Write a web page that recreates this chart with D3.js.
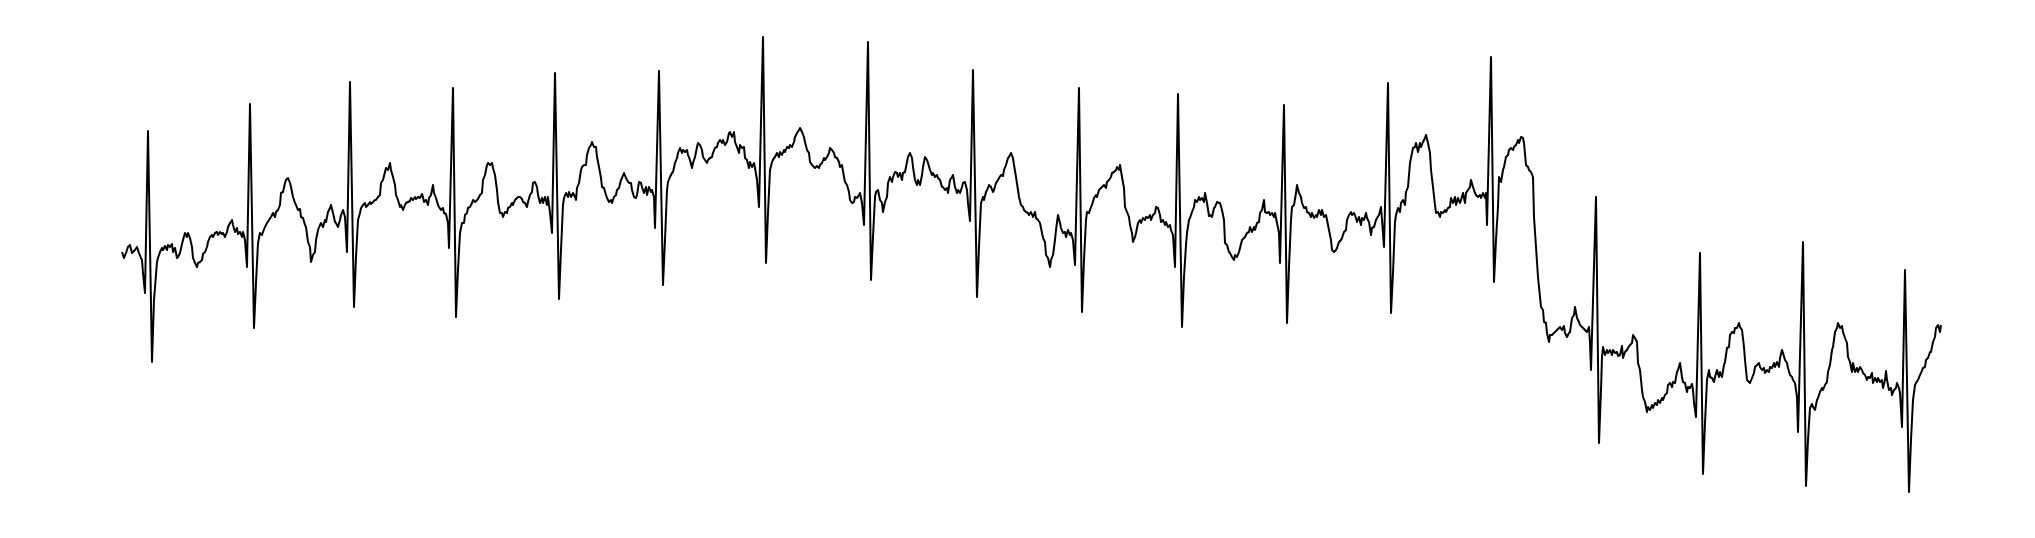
<!DOCTYPE html>
<html>
<head>
<meta charset="utf-8">
<script src="https://cdn.jsdelivr.net/npm/d3@7"></script>
<style>
  html, body { margin: 0; padding: 0; background: #ffffff; }
  svg { display: block; }
</style>
</head>
<body>
<svg id="chart" width="2035" height="538"></svg>
<script>
// Sample times (arbitrary sample units)
const time = [
2,4,6,8,10,12,13,15,17,19,21,22,23,25,28,32,34,37,38,40,42,43,45,47,48,50,52,53,55,57,58,60,62,63,65,67,68,70,72,73,75,77,78,80,82,83,85,87,88,90,92,93,95,97,98,100,102,103,105,107,108,110,112,113,115,117,118,120,122,123,125,127,130,134,136,138,140,142,143,145,147,
151,153,155,156,158,160,161,163,165,166,168,170,171,173,175,176,178,180,181,183,185,186,188,190,191,193,195,196,198,200,201,203,205,206,208,210,211,213,215,216,218,220,221,223,225,227,230,234,236,238,240,241,243,245,246,248,250,251,253,255,256,258,260,261,263,265,266,268,270,271,273,275,276,278,280,281,283,285,286,288,290,291,293,295,296,298,300,302,
303,304,306,308,309,311,313,314,316,318,319,321,323,324,326,328,329,333,336,338,340,342,344,345,347,348,350,352,353,355,357,358,360,362,363,365,367,368,370,372,373,375,377,378,380,382,383,385,387,388,390,392,393,395,397,398,400,402,403,405,407,408,410,412,413,415,417,418,420,422,423,425,427,428,430,432,435,439,441,443,444,446,448,449,451,453,455,
456,457,459,461,462,464,466,467,469,471,472,474,476,477,479,481,482,484,486,487,489,491,492,494,496,497,499,501,502,504,506,507,509,511,512,514,516,517,519,521,522,524,526,527,529,531,532,534,535,539,543,545,547,548,550,552,553,555,557,558,560,562,563,565,567,568,570,572,573,575,577,578,580,582,583,585,587,588,590,592,593,595,597,598,600,602,603,605,607,
609,610,612,614,615,617,619,620,622,624,625,627,629,630,632,634,635,637,639,643,646,648,650,652,654,655,657,659,660,662,664,665,667,669,670,672,674,675,677,679,680,682,684,685,687,689,690,692,694,695,697,699,700,702,704,705,707,709,710,712,714,715,717,719,720,722,724,725,727,729,730,732,734,735,737,739,740,742,744,748,751,753,755,756,758,760,
762,763,765,767,768,770,772,773,775,777,778,780,782,783,785,787,788,790,792,793,795,797,798,800,802,803,805,807,808,810,812,813,815,817,818,820,822,823,825,827,828,830,832,833,835,837,838,840,842,843,845,847,848,850,853,857,859,861,863,864,866,868,869,871,873,874,876,878,879,881,883,884,886,888,889,891,893,894,896,898,899,901,903,904,906,908,909,911,913,
915,916,918,920,921,923,925,926,928,930,931,933,935,936,938,940,941,943,945,946,948,950,951,953,955,959,962,964,966,967,969,971,972,974,976,977,979,981,982,984,986,987,989,991,992,994,996,997,999,1000,1002,1004,1005,1007,1009,1010,1012,1013,1015,1016,1018,1020,1021,1023,1025,1026,1028,1030,1031,1033,1035,1036,1038,1040,1041,1043,1045,1046,1048,1050,1051,1053,1055,1058,1062,1064,1066,
1067,1069,1070,1072,1074,1075,1077,1079,1080,1082,1084,1085,1087,1089,1090,1092,1094,1095,1097,1099,1100,1102,1104,1105,1107,1109,1110,1112,1114,1115,1117,1119,1120,1122,1124,1125,1127,1129,1130,1132,1134,1135,1137,1139,1140,1142,1144,1145,1147,1149,1150,1152,1154,1155,1157,1159,1160,1164,1167,1169,1171,1172,1174,1176,1177,1179,1181,1182,1184,1186,1187,1189,1191,1192,1194,1196,1197,1199,1201,1202,1204,1206,1207,1209,1211,1212,1214,1216,1217,1219,
1221,1222,1224,1226,1227,1229,1231,1232,1234,1236,1237,1239,1241,1242,1244,1246,1247,1249,1251,1252,1254,1256,1257,1259,1261,1262,1264,1268,1271,1273,1275,1276,1278,1280,1281,1283,1285,1286,1288,1290,1291,1293,1295,1296,1298,1300,1301,1303,1305,1306,1308,1310,1311,1313,1315,1316,1318,1320,1321,1323,1325,1326,1328,1330,1331,1333,1335,1336,1338,1340,1341,1343,1345,1346,1348,1350,1351,1353,1355,1356,1358,1360,1361,1363,1365,1366,1367,1371,
1374,1376,1378,1379,1381,1383,1384,1386,1388,1389,1391,1393,1394,1396,1398,1399,1401,1403,1404,1406,1408,1409,1411,1413,1414,1416,1418,1419,1421,1423,1424,1426,1427,1429,1430,1432,1434,1435,1437,1439,1440,1442,1444,1445,1447,1449,1450,1452,1454,1455,1457,1459,1460,1462,1464,1465,1467,1469,1470,1471,1476,1479,1481,1482,1483,1485,1487,1488,1490,1492,1493,1495,1497,1498,1500,1502,1503,1505,1507,1508,1510,1512,1513,1515,1517,1518,1520,1522,1523,1525,
1527,1528,1530,1532,1533,1535,1537,1538,1540,1542,1543,1545,1547,1548,1550,1552,1553,1555,1557,1558,1560,1562,1563,1565,1567,1568,1570,1572,1573,1574,1576,1580,1583,1585,1587,1589,1590,1592,1594,1595,1597,1599,1600,1602,1604,1605,1607,1609,1610,1612,1614,1615,1617,1619,1620,1622,1624,1625,1627,1629,1630,1632,1634,1635,1637,1639,1640,1642,1644,1645,1647,1649,1650,1652,1654,1655,1657,1659,1660,1662,1663,1665,1667,1668,1670,1672,1673,1675,1677,1678,
1683,1686,1688,1690,1692,1693,1695,1697,1698,1700,1702,1703,1705,1707,1708,1710,1712,1713,1715,1717,1718,1720,1722,1723,1725,1727,1728,1730,1732,1733,1735,1737,1738,1740,1742,1743,1745,1747,1748,1750,1752,1753,1755,1757,1758,1760,1762,1763,1765,1766,1767,1769,1771,1772,1774,1776,1777,1779,1780,1782,1785,1789,1791,1793,1795,1796,1798,1800,1801,1803,1805,1806,1808,1810,1811,1813,1815,1816,1818,1820,1821
];

// Signal amplitude (arbitrary units)
const amplitude = [
48,42,47,53,55,47,48,50,53,47,42,40,27,7,169,-62,0,38,42,48,52,50,54,50,55,53,56,48,52,42,43,47,56,60,67,63,67,62,53,42,37,33,37,38,40,46,48,53,58,63,65,63,67,68,65,68,66,67,63,68,73,77,80,75,68,72,66,68,63,68,60,33,196,-28,17,57,67,65,68,73,77,
83,87,83,88,90,95,107,108,117,120,122,117,113,103,97,95,90,91,83,82,75,73,58,53,38,45,48,60,70,75,77,73,80,78,88,92,95,87,78,77,73,80,85,90,83,48,218,-7,43,80,87,92,95,97,93,95,98,96,98,100,100,103,105,117,120,128,132,130,137,130,123,115,105,100,93,95,90,95,97,98,99,102,100,103,101,103,102,106,
103,98,100,95,102,105,115,107,102,95,93,90,92,87,86,77,52,212,-17,30,67,77,77,85,87,92,93,97,100,98,100,101,105,107,120,125,135,137,135,137,132,125,110,98,87,87,83,88,87,92,93,97,95,100,102,103,103,101,98,97,93,98,105,108,117,118,113,105,97,102,97,103,95,103,87,67,227,1,50,95,102,107,103,108,103,107,103,
100,112,117,130,133,135,135,145,152,155,158,153,153,143,133,122,113,112,105,102,98,100,97,103,105,110,112,120,122,127,122,120,117,117,110,103,102,105,118,117,113,107,113,105,113,108,110,103,72,229,15,60,110,118,123,127,128,137,142,147,152,147,150,148,150,145,140,132,137,143,153,157,155,150,143,140,137,140,142,143,147,152,153,157,160,157,160,155,158,
167,168,163,168,158,153,147,155,152,153,142,140,132,138,133,137,132,120,93,263,37,87,130,138,142,143,147,143,148,145,150,148,153,152,155,153,158,163,167,170,172,168,163,158,150,147,138,135,133,132,134,132,135,137,142,140,143,147,152,150,147,143,142,138,133,135,123,118,115,108,100,97,98,103,102,105,107,97,75,258,20,63,103,108,110,100,
97,88,98,103,117,123,118,123,128,127,123,127,120,127,128,138,143,147,142,133,120,115,120,115,125,133,143,140,137,130,125,127,123,125,122,120,113,113,110,112,107,120,123,125,113,107,110,107,113,117,118,110,97,79,230,3,53,97,103,100,108,112,115,113,108,110,117,120,122,125,124,130,135,142,143,147,142,135,123,110,103,95,93,90,88,87,85,88,83,
88,82,80,77,72,62,58,45,42,33,40,45,60,70,85,77,72,67,68,63,70,65,67,60,35,212,-12,40,80,88,87,93,95,102,105,103,110,112,113,115,112,118,120,123,127,128,130,133,130,135,123,112,93,88,83,75,67,58,63,67,77,80,77,82,80,83,82,85,80,85,87,93,92,85,78,80,75,78,73,75,70,65,33,206,-27,23,55,
67,80,82,88,93,100,98,103,100,102,98,107,97,84,85,83,92,93,98,97,97,90,80,57,55,48,47,43,40,45,43,48,52,60,62,63,67,68,73,68,73,70,77,78,87,90,100,88,87,88,85,87,83,87,77,67,37,195,-23,33,80,93,95,107,115,107,103,97,92,93,88,87,83,87,82,85,83,90,85,90,83,85,80,70,60,50,48,50,52,58,
60,62,68,70,80,85,88,85,87,82,78,83,75,82,80,87,82,78,65,72,73,80,82,85,93,80,53,217,-13,27,78,85,92,88,97,100,95,108,113,137,142,152,153,157,148,157,153,158,162,165,157,147,130,113,95,87,88,83,88,87,90,88,92,93,102,97,103,95,102,97,100,107,97,107,110,113,120,113,107,105,103,105,102,107,102,107,75,243,
18,60,93,123,118,130,133,143,145,150,152,150,153,155,160,157,163,162,157,135,133,130,128,123,83,53,23,13,-7,-10,-22,-23,-33,-42,-35,-35,-33,-32,-30,-28,-27,-30,-26,-33,-37,-33,-32,-18,-15,-7,-18,-22,-25,-27,-29,-30,-32,-27,-43,-70,103,-143,-90,-57,-47,-55,-50,-53,-50,-55,-50,-53,-52,-56,-55,-46,-58,-52,-50,-48,-45,-43,-35,-38,-42,-63,-70,-90,-97,-102,
-112,-107,-110,-105,-108,-103,-105,-100,-103,-98,-100,-95,-93,-85,-83,-87,-82,-83,-72,-70,-63,-77,-82,-83,-92,-87,-88,-84,-90,-103,-117,47,-174,-123,-80,-70,-77,-78,-82,-77,-70,-77,-72,-77,-65,-62,-48,-47,-35,-32,-33,-28,-28,-23,-27,-30,-47,-60,-80,-82,-83,-78,-73,-67,-65,-63,-67,-70,-68,-73,-70,-72,-67,-68,-63,-67,-62,-67,-58,-50,-53,-60,-63,-68,-75,-77,-80,-83,-97,-132,
58,-186,-140,-108,-104,-107,-110,-100,-98,-92,-88,-90,-85,-82,-72,-65,-50,-47,-32,-28,-23,-28,-26,-32,-38,-43,-57,-62,-72,-63,-72,-68,-72,-67,-70,-73,-75,-80,-77,-78,-73,-83,-78,-82,-78,-82,-80,-88,-80,-71,-80,-90,-88,-95,-90,-88,-83,-88,-93,-127,30,-192,-140,-100,-85,-83,-80,-75,-73,-68,-67,-60,-58,-52,-52,-42,-37,-28,-25,-32,-25
];

const timeDomain = [0, 1830];
const amplitudeDomain = [-200, 270];

const data = time.map((t, i) => ({ t: t, v: amplitude[i] }));

const svg = d3.select("#chart");

const x = d3.scaleLinear().domain(timeDomain).range([120, 1950]);
const y = d3.scaleLinear().domain(amplitudeDomain).range([500, 30]);

const line = d3.line()
  .x(d => x(d.t))
  .y(d => y(d.v));

svg.append("path")
  .datum(data)
  .attr("fill", "none")
  .attr("stroke", "#000000")
  .attr("stroke-width", 2)
  .attr("stroke-linejoin", "round")
  .attr("d", line);
</script>
</body>
</html>
